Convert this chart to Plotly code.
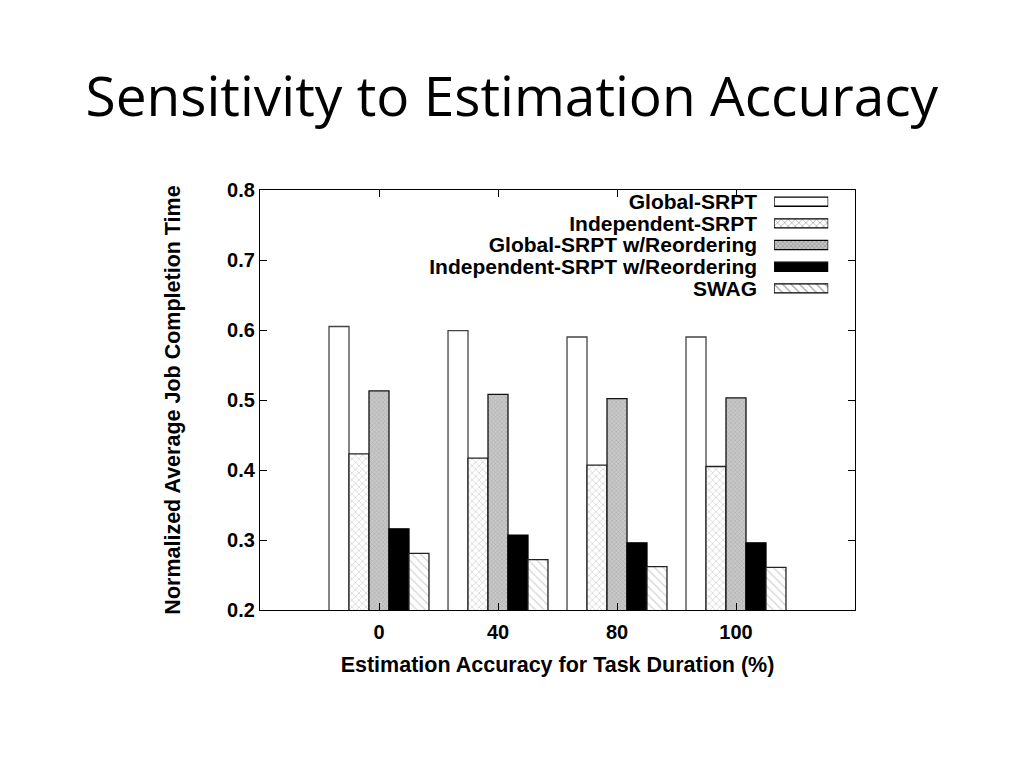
import plotly.graph_objects as go

categories = ["0", "40", "80", "100"]
series_names = [
    "Global-SRPT",
    "Independent-SRPT",
    "Global-SRPT w/Reordering",
    "Independent-SRPT w/Reordering",
    "SWAG",
]
global_srpt = [0.605, 0.599, 0.590, 0.590]
independent_srpt = [0.423, 0.417, 0.407, 0.405]
global_srpt_reorder = [0.513, 0.508, 0.502, 0.503]
independent_srpt_reorder = [0.316, 0.307, 0.296, 0.296]
swag = [0.281, 0.272, 0.262, 0.261]
series_values = [global_srpt, independent_srpt, global_srpt_reorder,
                 independent_srpt_reorder, swag]
y_ticks = [0.2, 0.3, 0.4, 0.5, 0.6, 0.7, 0.8]

styles = [
    dict(color="white", pattern=dict(shape="")),
    dict(color="white", pattern=dict(shape="x", fgcolor="#a0a0a0", bgcolor="white", size=5, solidity=0.25)),
    dict(color="#c4c4c4", pattern=dict(shape="x", fgcolor="#8a8a8a", bgcolor="#c8c8c8", size=3, solidity=0.3)),
    dict(color="black", pattern=dict(shape="")),
    dict(color="white", pattern=dict(shape="\\", fgcolor="#a8a8a8", bgcolor="white", size=6, solidity=0.2)),
]
line_colors = ["#444", "#222", "#111", "black", "#222"]

FONT = "Liberation Sans"
fig = go.Figure()
for name, vals, st, lc in zip(series_names, series_values, styles, line_colors):
    fig.add_trace(go.Bar(
        x=categories, y=vals, name=name, showlegend=False,
        base=0,
        marker=dict(color=st["color"], pattern=st["pattern"],
                    line=dict(color=lc, width=1.3)),
    ))

# legend drawn as a small auxiliary bar subplot (swatches on the right)
fig.add_trace(go.Bar(
    x=[1] * len(series_names), y=series_names, orientation="h",
    xaxis="x2", yaxis="y2", showlegend=False, hoverinfo="skip",
    marker=dict(
        color=[s["color"] for s in styles],
        pattern=dict(
            shape=[s["pattern"].get("shape", "") for s in styles],
            fgcolor=[s["pattern"].get("fgcolor", "black") for s in styles],
            bgcolor=[s["pattern"].get("bgcolor", s["color"]) for s in styles],
            size=[s["pattern"].get("size", 4) for s in styles],
            solidity=[s["pattern"].get("solidity", 0.3) for s in styles],
        ),
        line=dict(color="black", width=1.3),
    ),
    width=0.42,
))

tick_font = dict(family=FONT, size=20, color="black", weight="bold")
legend_font = dict(family=FONT, size=21, color="black", weight="bold")
title_font = dict(family=FONT, size=21.5, color="black", weight="bold")

fig.update_layout(
    width=1024, height=768,
    margin=dict(l=252, r=177, t=182, b=166),
    paper_bgcolor="white", plot_bgcolor="white",
    barmode="group", bargap=0.16, bargroupgap=0,
    title=dict(text="Sensitivity to Estimation Accuracy",
               x=0.492, xanchor="center", y=0.885, yanchor="middle",
               font=dict(family="Open Sans", size=55, color="black")),
    xaxis=dict(
        type="category", range=[-1, 4],
        showline=True, linecolor="black", linewidth=1.3, mirror="ticks",
        ticks="inside", ticklen=7, tickcolor="black",
        tickfont=tick_font, showgrid=False, zeroline=False,
        ticklabelstandoff=4,
        title=dict(text="Estimation Accuracy for Task Duration (%)",
                   font=title_font, standoff=14),
    ),
    yaxis=dict(
        range=[0.2, 0.8], tickvals=y_ticks, tickformat=".1f",
        showline=True, linecolor="black", linewidth=1.3, mirror="ticks",
        ticks="inside", ticklen=7, tickcolor="black",
        tickfont=tick_font, showgrid=False, zeroline=False,
        title=dict(text="Normalized Average Job Completion Time",
                   font=title_font, standoff=40),
    ),
    xaxis2=dict(domain=[0.864, 0.955], range=[0, 1], anchor="y2",
                visible=False, fixedrange=True),
    yaxis2=dict(domain=[0.74, 0.998], anchor="x2", type="category",
                tickmode="array", tickvals=series_names, ticktext=series_names,
                autorange="reversed", showline=False, showgrid=False,
                zeroline=False, ticks="", tickfont=legend_font,
                ticklabelstandoff=16, fixedrange=True),
)

fig.write_html("out.html")
